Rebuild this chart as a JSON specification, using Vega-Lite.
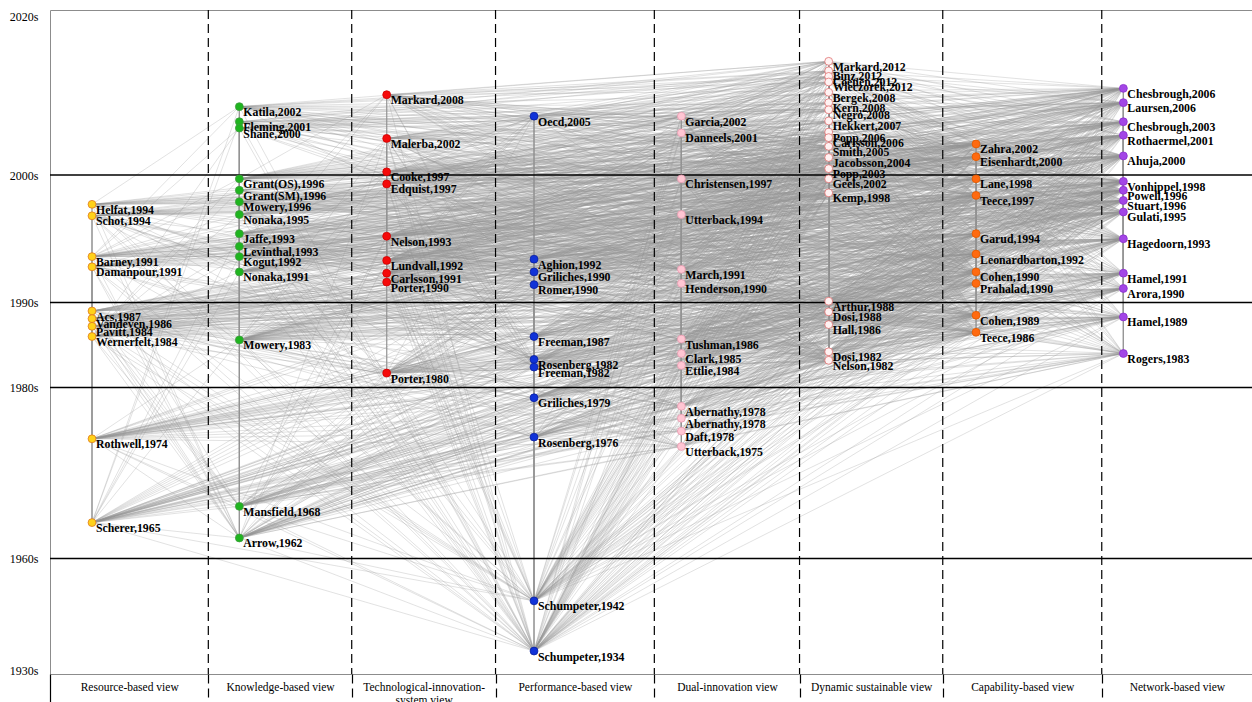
{
"$schema": "https://vega.github.io/schema/vega-lite/v6.json",
"width": 1202, "height": 664,
"autosize": {"type": "none"},
"padding": {"left": 50, "top": 10, "right": 0, "bottom": 28},
"background": "white",
"config": {"view": {"stroke": "#8c8c8c", "strokeWidth": 1}, "font": "Liberation Serif"},
"datasets": {
"nodes": [
{"id":1,"col":0,"pos":1997.7,"name":"Helfat,1994","view":"R"},
{"id":2,"col":0,"pos":1996.8,"name":"Schot,1994","view":"R"},
{"id":3,"col":0,"pos":1993.6,"name":"Barney,1991","view":"R"},
{"id":4,"col":0,"pos":1992.8,"name":"Damanpour,1991","view":"R"},
{"id":5,"col":0,"pos":1989.0,"name":"Acs,1987","view":"R"},
{"id":6,"col":0,"pos":1988.1,"name":"Vandeven,1986","view":"R"},
{"id":7,"col":0,"pos":1987.2,"name":"Pavitt,1984","view":"R"},
{"id":8,"col":0,"pos":1986.0,"name":"Wernerfelt,1984","view":"R"},
{"id":9,"col":0,"pos":1974.0,"name":"Rothwell,1974","view":"R"},
{"id":10,"col":0,"pos":1964.2,"name":"Scherer,1965","view":"R"},
{"id":11,"col":1,"pos":2008.6,"name":"Katila,2002","view":"K"},
{"id":12,"col":1,"pos":2006.7,"name":"Fleming,2001","view":"K"},
{"id":13,"col":1,"pos":2005.9,"name":"Shane,2000","view":"K"},
{"id":14,"col":1,"pos":1999.7,"name":"Grant(OS),1996","view":"K"},
{"id":15,"col":1,"pos":1998.8,"name":"Grant(SM),1996","view":"K"},
{"id":16,"col":1,"pos":1997.9,"name":"Mowery,1996","view":"K"},
{"id":17,"col":1,"pos":1996.9,"name":"Nonaka,1995","view":"K"},
{"id":18,"col":1,"pos":1995.4,"name":"Jaffe,1993","view":"K"},
{"id":19,"col":1,"pos":1994.4,"name":"Levinthal,1993","view":"K"},
{"id":20,"col":1,"pos":1993.6,"name":"Kogut,1992","view":"K"},
{"id":21,"col":1,"pos":1992.4,"name":"Nonaka,1991","view":"K"},
{"id":22,"col":1,"pos":1985.6,"name":"Mowery,1983","view":"K"},
{"id":23,"col":1,"pos":1966.1,"name":"Mansfield,1968","view":"K"},
{"id":24,"col":1,"pos":1962.4,"name":"Arrow,1962","view":"K"},
{"id":25,"col":2,"pos":2010.1,"name":"Markard,2008","view":"T"},
{"id":26,"col":2,"pos":2004.6,"name":"Malerba,2002","view":"T"},
{"id":27,"col":2,"pos":2000.4,"name":"Cooke,1997","view":"T"},
{"id":28,"col":2,"pos":1999.3,"name":"Edquist,1997","view":"T"},
{"id":29,"col":2,"pos":1995.2,"name":"Nelson,1993","view":"T"},
{"id":30,"col":2,"pos":1993.3,"name":"Lundvall,1992","view":"T"},
{"id":31,"col":2,"pos":1992.3,"name":"Carlsson,1991","view":"T"},
{"id":32,"col":2,"pos":1991.6,"name":"Porter,1990","view":"T"},
{"id":33,"col":2,"pos":1981.7,"name":"Porter,1980","view":"T"},
{"id":34,"col":3,"pos":2007.4,"name":"Oecd,2005","view":"P"},
{"id":35,"col":3,"pos":1993.4,"name":"Aghion,1992","view":"P"},
{"id":36,"col":3,"pos":1992.4,"name":"Griliches,1990","view":"P"},
{"id":37,"col":3,"pos":1991.4,"name":"Romer,1990","view":"P"},
{"id":38,"col":3,"pos":1986.0,"name":"Freeman,1987","view":"P"},
{"id":39,"col":3,"pos":1983.3,"name":"Rosenberg,1982","view":"P"},
{"id":40,"col":3,"pos":1982.4,"name":"Freeman,1982","view":"P"},
{"id":41,"col":3,"pos":1978.8,"name":"Griliches,1979","view":"P"},
{"id":42,"col":3,"pos":1974.2,"name":"Rosenberg,1976","view":"P"},
{"id":43,"col":3,"pos":1948.6,"name":"Schumpeter,1942","view":"P"},
{"id":44,"col":3,"pos":1935.1,"name":"Schumpeter,1934","view":"P"},
{"id":45,"col":4,"pos":2007.4,"name":"Garcia,2002","view":"D"},
{"id":46,"col":4,"pos":2005.3,"name":"Danneels,2001","view":"D"},
{"id":47,"col":4,"pos":1999.7,"name":"Christensen,1997","view":"D"},
{"id":48,"col":4,"pos":1996.9,"name":"Utterback,1994","view":"D"},
{"id":49,"col":4,"pos":1992.6,"name":"March,1991","view":"D"},
{"id":50,"col":4,"pos":1991.5,"name":"Henderson,1990","view":"D"},
{"id":51,"col":4,"pos":1985.7,"name":"Tushman,1986","view":"D"},
{"id":52,"col":4,"pos":1984.0,"name":"Clark,1985","view":"D"},
{"id":53,"col":4,"pos":1982.6,"name":"Ettlie,1984","view":"D"},
{"id":54,"col":4,"pos":1977.8,"name":"Abernathy,1978","view":"D"},
{"id":55,"col":4,"pos":1976.4,"name":"Abernathy,1978","view":"D"},
{"id":56,"col":4,"pos":1974.9,"name":"Daft,1978","view":"D"},
{"id":57,"col":4,"pos":1973.1,"name":"Utterback,1975","view":"D"},
{"id":58,"col":5,"pos":2014.3,"name":"Markard,2012","view":"S"},
{"id":59,"col":5,"pos":2013.1,"name":"Binz,2012","view":"S"},
{"id":60,"col":5,"pos":2012.4,"name":"Coenen,2012","view":"S"},
{"id":61,"col":5,"pos":2011.7,"name":"Wieczorek,2012","view":"S"},
{"id":62,"col":5,"pos":2010.4,"name":"Bergek,2008","view":"S"},
{"id":63,"col":5,"pos":2009.1,"name":"Kern,2008","view":"S"},
{"id":64,"col":5,"pos":2008.2,"name":"Negro,2008","view":"S"},
{"id":65,"col":5,"pos":2006.8,"name":"Hekkert,2007","view":"S"},
{"id":66,"col":5,"pos":2005.4,"name":"Popp,2006","view":"S"},
{"id":67,"col":5,"pos":2004.7,"name":"Carlsson,2006","view":"S"},
{"id":68,"col":5,"pos":2003.6,"name":"Smith,2005","view":"S"},
{"id":69,"col":5,"pos":2002.2,"name":"Jacobsson,2004","view":"S"},
{"id":70,"col":5,"pos":2000.8,"name":"Popp,2003","view":"S"},
{"id":71,"col":5,"pos":1999.7,"name":"Geels,2002","view":"S"},
{"id":72,"col":5,"pos":1998.6,"name":"Kemp,1998","view":"S"},
{"id":73,"col":5,"pos":1990.1,"name":"Arthur,1988","view":"S"},
{"id":74,"col":5,"pos":1988.9,"name":"Dosi,1988","view":"S"},
{"id":75,"col":5,"pos":1987.4,"name":"Hall,1986","view":"S"},
{"id":76,"col":5,"pos":1984.2,"name":"Dosi,1982","view":"S"},
{"id":77,"col":5,"pos":1983.2,"name":"Nelson,1982","view":"S"},
{"id":78,"col":6,"pos":2003.9,"name":"Zahra,2002","view":"C"},
{"id":79,"col":6,"pos":2002.3,"name":"Eisenhardt,2000","view":"C"},
{"id":80,"col":6,"pos":1999.7,"name":"Lane,1998","view":"C"},
{"id":81,"col":6,"pos":1998.4,"name":"Teece,1997","view":"C"},
{"id":82,"col":6,"pos":1995.4,"name":"Garud,1994","view":"C"},
{"id":83,"col":6,"pos":1993.8,"name":"Leonardbarton,1992","view":"C"},
{"id":84,"col":6,"pos":1992.4,"name":"Cohen,1990","view":"C"},
{"id":85,"col":6,"pos":1991.5,"name":"Prahalad,1990","view":"C"},
{"id":86,"col":6,"pos":1988.5,"name":"Cohen,1989","view":"C"},
{"id":87,"col":6,"pos":1986.5,"name":"Teece,1986","view":"C"},
{"id":88,"col":7,"pos":2010.9,"name":"Chesbrough,2006","view":"N"},
{"id":89,"col":7,"pos":2009.1,"name":"Laursen,2006","view":"N"},
{"id":90,"col":7,"pos":2006.7,"name":"Chesbrough,2003","view":"N"},
{"id":91,"col":7,"pos":2005.0,"name":"Rothaermel,2001","view":"N"},
{"id":92,"col":7,"pos":2002.4,"name":"Ahuja,2000","view":"N"},
{"id":93,"col":7,"pos":1999.5,"name":"Vonhippel,1998","view":"N"},
{"id":94,"col":7,"pos":1998.8,"name":"Powell,1996","view":"N"},
{"id":95,"col":7,"pos":1998.0,"name":"Stuart,1996","view":"N"},
{"id":96,"col":7,"pos":1997.1,"name":"Gulati,1995","view":"N"},
{"id":97,"col":7,"pos":1995.0,"name":"Hagedoorn,1993","view":"N"},
{"id":98,"col":7,"pos":1992.3,"name":"Hamel,1991","view":"N"},
{"id":99,"col":7,"pos":1991.1,"name":"Arora,1990","view":"N"},
{"id":100,"col":7,"pos":1988.3,"name":"Hamel,1989","view":"N"},
{"id":101,"col":7,"pos":1984.0,"name":"Rogers,1983","view":"N"}
],
"edges": [
{"src":1,"dst":[3,4,5,8,9,10,22,24,33,44,86,87,21,39,51,54,100,85]},
{"src":2,"dst":[9,10,24,33,40,39,44,43,76,77,73,51,57,54,8]},
{"src":3,"dst":[8,10,33,44,87,5,6,24,22,39]},
{"src":4,"dst":[9,10,23,24,44,43,51,52,53,56,57,7,5]},
{"src":5,"dst":[9,10,23,24,33,40,42,43,44,7,22]},
{"src":6,"dst":[9,10,24,43,54,56,57,41,23]},
{"src":7,"dst":[9,10,23,24,41,42,43,44,54,57]},
{"src":8,"dst":[10,24,33,43,44,23]},
{"src":9,"dst":[10,23,24,43,44]},
{"src":10,"dst":[44,43,24]},
{"src":11,"dst":[12,13,14,15,16,17,18,19,20,21,22,86,84,81,82,83,49,47,48,93,94,96,97,44,10,3,1,51]},
{"src":12,"dst":[14,17,18,19,20,21,86,84,49,50,48,47,97,95,44,24,10,22]},
{"src":13,"dst":[14,15,16,17,18,21,86,84,49,50,47,93,22,44,24,8,3]},
{"src":14,"dst":[3,8,17,19,20,21,86,84,85,87,83,49,22,44,24]},
{"src":15,"dst":[3,8,17,20,21,86,85,87,83,49,22,24]},
{"src":16,"dst":[18,20,21,22,86,84,87,97,98,99,100,33,39,40,44,43,24,23,29]},
{"src":17,"dst":[3,8,21,20,19,49,50,85,87,83,22,24,44]},
{"src":18,"dst":[23,24,22,36,37,39,40,41,42,44,43,10,86,84,33]},
{"src":19,"dst":[3,8,49,50,51,84,86,87,85,22,24,44]},
{"src":20,"dst":[3,8,22,24,44,43,49,84,86,87,85,100,10,51]},
{"src":21,"dst":[22,24,23,44,8,87,86,51,10]},
{"src":22,"dst":[23,24,44,43,10,9,41,42,54,57]},
{"src":23,"dst":[24,10,44,43]},
{"src":24,"dst":[44,43]},
{"src":25,"dst":[26,27,28,29,30,31,32,33,70,71,72,69,68,67,66,73,74,75,76,77,47,48,14,19,92,93,44,40,39,84,86,81,21,79,88]},
{"src":26,"dst":[27,28,29,30,31,32,33,73,74,76,77,40,39,37,36,35,84,86,87,49,50,21,22,44,43,24]},
{"src":27,"dst":[28,29,30,31,32,33,77,76,40,21,22,44,87,86,97,96,98]},
{"src":28,"dst":[29,30,31,32,33,77,76,74,40,38,39,44,43,22,84,86]},
{"src":29,"dst":[30,31,32,33,77,76,74,40,38,39,36,37,22,44,43,24,23]},
{"src":30,"dst":[32,33,77,76,73,74,40,38,39,44,43,22,24]},
{"src":31,"dst":[32,33,77,76,73,74,40,38,39,44,43,22,84,86]},
{"src":32,"dst":[33,77,76,40,38,39,44,43,87,86,22]},
{"src":33,"dst":[44,43,24,10,23]},
{"src":34,"dst":[35,36,37,38,39,40,41,42,43,44,29,30,31,32,33,26,27,28,47,48,84,86,81,97,93,11,12,13,14,18]},
{"src":35,"dst":[37,36,38,39,40,41,42,43,44,24,23,10,33,77,76]},
{"src":36,"dst":[39,40,41,42,43,44,24,23,10,22,18,7,5,33,77]},
{"src":37,"dst":[39,40,41,42,43,44,24,23,10,77,76,73]},
{"src":38,"dst":[39,40,41,42,43,44,24,23,33,77,76,9,7,22]},
{"src":39,"dst":[41,42,43,44,24,23,10,9,54,57,33]},
{"src":40,"dst":[41,42,43,44,24,23,10,9,54,57,33]},
{"src":41,"dst":[42,43,44,24,23,10,9]},
{"src":42,"dst":[43,44,24,23,10]},
{"src":43,"dst":[44]},
{"src":45,"dst":[46,47,48,49,50,51,52,53,54,55,56,57,80,81,82,83,84,85,86,87,93,96,97,98,99,11,12,13,14,17,19,20,21,3,4,44,43,33,73,74,75,71,72]},
{"src":46,"dst":[47,48,49,50,51,52,53,54,55,56,57,80,81,82,83,84,85,86,87,92,93,94,3,14,19,21,44,43,33,72]},
{"src":47,"dst":[48,49,50,51,52,53,54,55,56,57,83,84,85,86,87,97,98,99,100,101,3,8,19,21,44,43,73,74,75,76,77]},
{"src":48,"dst":[49,50,51,52,53,54,55,56,57,84,85,86,87,98,99,100,101,22,44,43,33,38,39,40,41,42,73,74,75,76,77]},
{"src":49,"dst":[50,51,52,53,54,55,56,57,84,86,87,100,101,8,22,44,43,77,76]},
{"src":50,"dst":[51,52,53,54,55,56,57,86,87,100,101,22,44,43,77,76,75,74,39,40]},
{"src":51,"dst":[52,53,54,55,56,57,101,22,44,43,77,76,39,40,41,42,33,9,10,23,24]},
{"src":52,"dst":[53,54,55,56,57,101,22,44,43,77,76,39,40,41,42,33,9,10]},
{"src":53,"dst":[54,55,56,57,101,44,43,77,76,39,40,41,42,33,9,10,23]},
{"src":54,"dst":[55,56,57,41,42,44,43,9,10,23,24]},
{"src":55,"dst":[56,57,42,44,43,9,10,23,24]},
{"src":56,"dst":[57,42,44,43,9,10,23]},
{"src":57,"dst":[42,44,43,9,10,23,24]},
{"src":58,"dst":[59,60,61,62,63,64,65,66,67,68,69,70,71,72,73,74,75,76,77,25,26,27,28,29,30,31,32,47,48,49,50,11,12,13,14,16,88,89,90,91,92,93,44,43,34,45,46,78,79,80,81]},
{"src":59,"dst":[62,63,64,65,66,67,68,69,70,71,72,73,74,76,77,25,26,27,28,29,30,31,32,11,12,13,14,18,88,89,90,91,92,96,97,44,34,45,46,78,79,80,81]},
{"src":60,"dst":[62,63,64,65,66,67,68,69,70,71,72,73,76,77,25,26,27,28,29,30,31,32,33,11,12,14,18,20,88,89,92,94,95,44,34,45,78,79,80,81]},
{"src":61,"dst":[62,63,64,65,66,67,68,69,70,71,72,73,74,76,77,25,26,27,28,29,30,31,32,33,11,13,14,17,90,91,92,93,44,43,34,46,47,48,80,81,82]},
{"src":62,"dst":[65,66,67,68,69,70,71,72,73,74,76,77,26,27,28,29,30,31,32,33,13,14,17,18,19,21,92,93,94,96,97,44,43,34,47,48,49,50,79,80,81,82,83,84,85,86]},
{"src":63,"dst":[65,66,67,68,69,70,71,72,73,74,75,76,77,26,27,28,29,30,31,14,17,21,92,95,96,44,34,45,47,49,79,81,84,86]},
{"src":64,"dst":[65,66,67,68,69,70,71,72,73,74,76,77,26,27,28,29,30,31,32,11,14,18,19,92,94,97,44,43,34,46,47,48,78,80,81,84]},
{"src":65,"dst":[66,67,68,69,70,71,72,73,74,76,77,26,27,28,29,30,31,32,33,13,14,17,21,92,93,97,98,44,43,34,47,48,49,50,79,80,81,85,86]},
{"src":66,"dst":[68,69,70,71,72,73,74,75,76,77,26,27,29,30,31,33,18,14,21,22,35,36,37,38,39,40,41,42,43,44,92,99,84,86]},
{"src":67,"dst":[68,69,70,71,72,73,74,76,77,26,27,28,29,30,31,32,33,14,19,21,22,92,93,95,97,44,43,35,37,38,40,47,49,84,86,87]},
{"src":68,"dst":[69,70,71,72,73,74,75,76,77,26,27,28,29,30,31,32,33,13,14,17,21,22,92,93,96,44,43,38,40,45,46,47,48,49,50,51,80,81,86]},
{"src":69,"dst":[70,71,72,73,74,75,76,77,26,27,28,29,30,31,32,33,14,16,18,21,22,93,94,96,97,98,44,43,38,39,40,47,48,49,50,51,52,53,80,81,84,85,86,87,101]},
{"src":70,"dst":[71,72,73,74,76,77,27,28,29,30,31,32,33,14,16,18,21,22,23,24,10,9,35,36,37,38,39,40,41,42,43,44,84,86,93,99,101,1,2,5,7]},
{"src":71,"dst":[72,73,74,75,76,77,27,28,29,30,31,32,33,14,17,21,22,93,94,96,97,44,43,38,40,42,47,48,49,50,51,52,53,54,55,56,57,80,81,86,87,2,1,6,9]},
{"src":72,"dst":[73,74,75,76,77,29,30,31,32,33,21,22,23,24,44,43,38,39,40,41,42,48,49,50,51,52,53,54,55,56,57,84,86,87,101,2,4,5,6,7,9,10]},
{"src":73,"dst":[76,77,33,22,23,24,44,43,39,40,41,42,54,57,101,7,9,10]},
{"src":74,"dst":[75,76,77,33,22,23,24,44,43,39,40,41,42,54,55,56,57,101,7,9,10,8]},
{"src":75,"dst":[76,77,33,22,24,44,43,39,40,41,42,54,57,9,10]},
{"src":76,"dst":[77,33,24,23,44,43,41,42,54,55,57,9,10]},
{"src":77,"dst":[33,24,23,44,43,41,42,54,57,9,10]},
{"src":78,"dst":[79,80,81,82,83,84,85,86,87,47,48,49,50,51,11,12,13,14,15,16,17,18,19,20,21,22,1,2,3,4,5,6,8,92,93,94,95,96,97,98,99,100,101,44,43,26,29,30,35,36,37,71,72,73,74]},
{"src":79,"dst":[80,81,82,83,84,85,86,87,47,48,49,50,51,52,14,15,16,17,18,19,20,21,22,1,2,3,4,8,93,94,95,96,97,98,99,100,101,44,43,27,28,29,30,35,36,38,72,73,74,75]},
{"src":80,"dst":[81,82,83,84,85,86,87,48,49,50,51,52,53,14,16,17,18,19,20,21,22,1,2,3,4,8,94,95,96,97,98,99,100,101,44,29,30,35,36,37,38,73,74,75,76,77]},
{"src":81,"dst":[82,83,84,85,86,87,48,49,50,51,52,53,54,55,17,18,19,20,21,22,23,24,1,2,3,4,5,6,7,8,9,10,96,97,98,99,100,101,44,43,29,30,31,32,33,35,36,37,38,39,40,73,74,75,76,77]},
{"src":82,"dst":[83,84,85,86,87,49,50,51,52,53,54,55,56,57,19,20,21,22,23,24,3,4,5,6,7,8,9,10,98,99,100,101,44,43,30,31,32,33,36,37,38,39,40,41,42,73,74,75,76,77]},
{"src":83,"dst":[84,85,86,87,49,50,51,52,53,54,55,56,57,21,22,23,24,3,4,5,6,7,8,9,10,98,99,100,101,44,43,32,33,36,37,38,39,40,41,42,73,74,75,76,77]},
{"src":84,"dst":[86,87,51,52,53,54,55,56,57,22,23,24,5,6,7,8,9,10,100,101,44,43,33,38,39,40,41,42,73,74,75,76,77]},
{"src":85,"dst":[86,87,51,52,53,54,55,56,57,22,23,24,5,6,7,8,9,10,100,101,44,43,33,38,39,40,41,42,73,74,75,76,77]},
{"src":86,"dst":[87,51,52,53,54,55,56,57,22,23,24,6,7,8,9,10,101,44,43,33,38,39,40,41,42,75,76,77]},
{"src":87,"dst":[52,53,54,55,56,57,23,24,7,8,9,10,101,44,43,33,39,40,41,42,76,77]},
{"src":88,"dst":[90,91,92,93,94,95,96,97,98,99,100,101,78,79,80,81,82,83,84,85,86,87,45,46,47,48,49,50,51,11,12,13,14,15,16,17,18,19,20,21,22,1,2,3,4,26,27,29,30,34,35,36,37,66,67,68,69,70,71,72,73,74,44,43]},
{"src":89,"dst":[90,91,92,93,94,95,96,97,98,99,100,101,78,79,80,81,82,83,84,85,86,87,45,46,47,48,49,50,51,52,11,12,13,14,15,16,17,18,19,20,21,22,1,2,3,4,5,26,27,28,29,30,31,34,35,36,37,38,68,69,70,71,72,73,74,75,44,43]},
{"src":90,"dst":[91,92,93,94,95,96,97,98,99,100,101,78,79,80,81,82,83,84,85,86,87,46,47,48,49,50,51,52,53,12,13,14,15,16,17,18,19,20,21,22,1,2,3,4,5,6,27,28,29,30,31,32,35,36,37,38,39,70,71,72,73,74,75,76,44,43]},
{"src":91,"dst":[92,93,94,95,96,97,98,99,100,101,79,80,81,82,83,84,85,86,87,47,48,49,50,51,52,53,14,15,16,17,18,19,20,21,22,1,2,3,4,5,6,7,8,27,28,29,30,31,32,33,35,36,37,38,39,40,72,73,74,75,76,77,44,43,10,24]},
{"src":92,"dst":[93,94,95,96,97,98,99,100,101,80,81,82,83,84,85,86,87,47,48,49,50,51,52,53,54,14,15,16,17,18,19,20,21,22,1,2,3,4,5,6,7,8,27,28,29,30,31,32,33,35,36,37,38,39,40,41,72,73,74,75,76,77,44,43,10,23,24]},
{"src":93,"dst":[94,95,96,97,98,99,100,101,81,82,83,84,85,86,87,48,49,50,51,52,53,54,55,17,18,19,20,21,22,1,2,3,4,5,6,7,8,9,29,30,31,32,33,35,36,37,38,39,40,41,42,73,74,75,76,77,44,43,10,23,24]},
{"src":94,"dst":[95,96,97,98,99,100,101,82,83,84,85,86,87,48,49,50,51,52,53,18,19,20,21,22,1,2,3,4,5,6,7,8,29,30,31,32,33,35,36,37,38,39,40,73,74,75,76,77,44,43,9,10,23,24]},
{"src":95,"dst":[96,97,98,99,100,101,82,83,84,85,86,87,48,49,50,51,52,53,54,18,19,20,21,22,1,2,3,4,6,7,8,29,30,31,32,33,35,36,37,38,39,40,41,73,74,75,76,77,44,43,9,10,24]},
{"src":96,"dst":[97,98,99,100,101,82,83,84,85,86,87,48,49,50,51,52,53,54,55,18,19,20,21,22,3,4,5,6,7,8,29,30,31,32,33,35,36,37,38,39,40,41,42,73,74,75,76,77,44,43,9,10,23]},
{"src":97,"dst":[98,99,100,101,83,84,85,86,87,49,50,51,52,53,54,55,56,20,21,22,3,4,5,6,7,8,30,31,32,33,35,36,37,38,39,40,41,42,73,74,75,76,77,44,43,9,10,23,24]},
{"src":98,"dst":[99,100,101,85,86,87,50,51,52,53,54,55,56,57,22,5,6,7,8,32,33,37,38,39,40,41,42,73,74,75,76,77,44,43,9,10,23,24]},
{"src":99,"dst":[100,101,86,87,51,52,53,54,55,56,57,22,5,6,7,8,33,38,39,40,41,42,73,74,75,76,77,44,43,9,10,23,24]},
{"src":100,"dst":[101,87,51,52,53,54,55,56,57,22,6,7,8,33,38,39,40,41,42,75,76,77,44,43,9,10,23,24]},
{"src":101,"dst":[54,55,56,57,41,42,44,43,9,10,23,24,33]}
]
},
"layer": [
{
"data": {"name": "edges"},
"transform": [
{"flatten": ["dst"]},
{"lookup": "src", "from": {"data": {"name": "nodes"}, "key": "id", "fields": ["col", "pos"]}, "as": ["c1", "p1"]},
{"lookup": "dst", "from": {"data": {"name": "nodes"}, "key": "id", "fields": ["col", "pos"]}, "as": ["c2", "p2"]}
],
"mark": {"type": "rule", "stroke": "#969696", "strokeWidth": 0.45, "opacity": 0.62},
"encoding": {
"x": {"field": "c1", "type": "quantitative",
"scale": {"domain": [-0.2851, 7.873], "zero": false, "nice": false},
"axis": {"orient": "bottom", "title": null, "domain": false, "grid": false,
"values": [-0.2851, 0.7894, 1.7627, 2.7388, 3.8166, 4.8021, 5.7741, 6.8533, 0.2522, 1.2761, 2.2508, 3.2777, 4.3094, 5.2881, 6.3137, 7.3632],
"ticks": true, "tickSize": 28, "tickColor": "black", "tickWidth": 1.2,
"tickOpacity": {"condition": {"test": "datum.value - floor(datum.value) > 0.5", "value": 1}, "value": 0},
"tickDash": {"condition": {"test": "datum.value < 0", "value": []}, "value": [9, 5]},
"labelExpr": "datum.value - floor(datum.value) > 0.5 ? '' : ['Resource-based view','Knowledge-based view',['Technological-innovation-','system view'],'Performance-based view','Dual-innovation view','Dynamic sustainable view','Capability-based view','Network-based view'][floor(datum.value)]",
"labelPadding": -21, "labelAngle": 0, "labelBaseline": "top", "labelLineHeight": 13,
"labelFont": "Liberation Serif", "labelFontSize": 11.5, "labelColor": "black",
"labelOverlap": false, "labelFlush": false, "labelBound": false}},
"y": {"field": "p1", "type": "quantitative",
"scale": {"domain": [1930, 1960, 1980, 1990, 2000, 2020], "range": [660, 548.5, 377.5, 292.5, 165, 6], "zero": false, "nice": false},
"axis": {"title": null, "domain": false, "ticks": false, "grid": false,
"values": [1930, 1960, 1980, 1990, 2000, 2020],
"labelExpr": "datum.value + 's'", "labelPadding": 12,
"labelFont": "Liberation Serif", "labelFontSize": 12, "labelColor": "black",
"labelOverlap": false, "labelFlush": false, "labelBound": false}},
"x2": {"field": "c2"},
"y2": {"field": "p2"}
}
},
{
"data": {"values": [{"yr": 1960}, {"yr": 1980}, {"yr": 1990}, {"yr": 2000}]},
"mark": {"type": "rule", "stroke": "black", "strokeWidth": 1.3},
"encoding": {"y": {"field": "yr", "type": "quantitative"}}
},
{
"data": {"values": [{"sep": 0.7894}, {"sep": 1.7627}, {"sep": 2.7388}, {"sep": 3.8166}, {"sep": 4.8021}, {"sep": 5.7741}, {"sep": 6.8533}]},
"mark": {"type": "rule", "stroke": "black", "strokeWidth": 1.2, "strokeDash": [9, 5]},
"encoding": {"x": {"field": "sep", "type": "quantitative"}}
},
{
"data": {"name": "nodes"},
"mark": {"type": "point", "filled": true, "size": 62, "strokeWidth": 0.8, "opacity": 1},
"encoding": {
"x": {"field": "col", "type": "quantitative"},
"y": {"field": "pos", "type": "quantitative"},
"fill": {"field": "view", "type": "nominal", "legend": null,
"scale": {"domain": ["R", "K", "T", "P", "D", "S", "C", "N"], "range": ["#FFD21A", "#1FB51F", "#F50A0A", "#1032D8", "#FFC6D3", "#FFF2F2", "#FF6A10", "#A346E6"]}},
"stroke": {"field": "view", "type": "nominal", "legend": null,
"scale": {"domain": ["R", "K", "T", "P", "D", "S", "C", "N"], "range": ["#E07A20", "#3E9A3E", "#D00000", "#0A20A0", "#E79AB0", "#E07070", "#E05A00", "#8A30CC"]}}
}
},
{
"data": {"name": "nodes"},
"mark": {"type": "text", "align": "left", "baseline": "middle", "dx": 4, "dy": 5.5, "font": "Liberation Serif", "fontWeight": "bold", "fontSize": 11.8, "color": "black"},
"encoding": {
"x": {"field": "col", "type": "quantitative"},
"y": {"field": "pos", "type": "quantitative"},
"text": {"field": "name", "type": "nominal"}
}
}
]
}
